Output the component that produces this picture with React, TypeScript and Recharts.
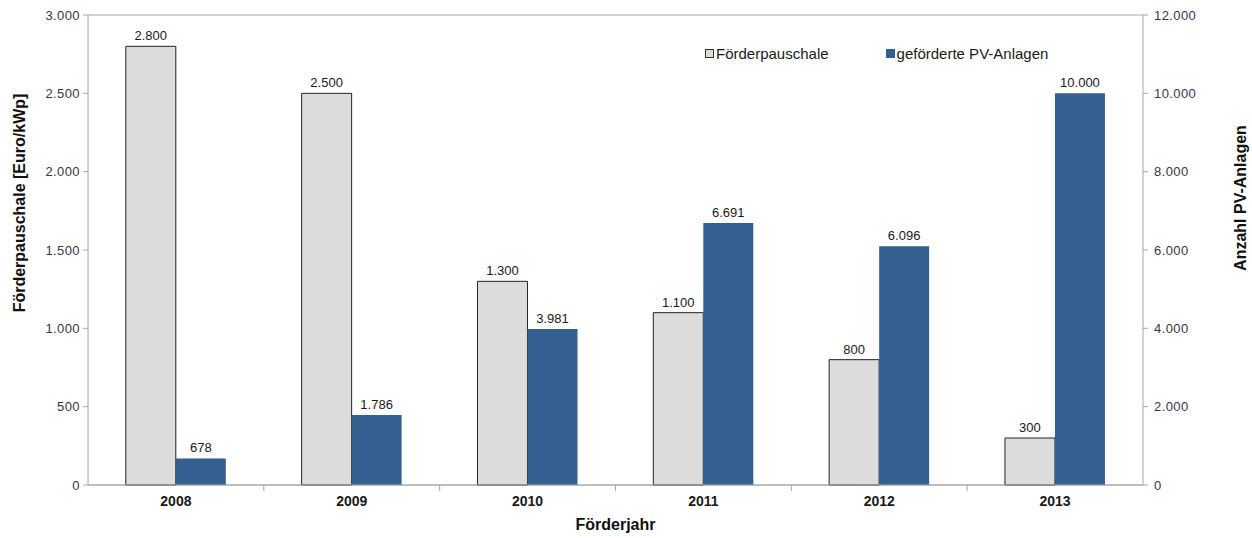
import {
  BarChart,
  Bar,
  XAxis,
  YAxis,
  CartesianGrid,
  Legend,
  LabelList,
} from "recharts";

const years = ["2008", "2009", "2010", "2011", "2012", "2013"];
const pauschale = [2800, 2500, 1300, 1100, 800, 300];
const anlagen = [678, 1786, 3981, 6691, 6096, 10000];
const leftTicks = [0, 500, 1000, 1500, 2000, 2500, 3000];
const rightTicks = [0, 2000, 4000, 6000, 8000, 10000, 12000];

const data = years.map((y, i) => ({ year: y, pauschale: pauschale[i], anlagen: anlagen[i] }));

const FONT = "'Liberation Sans', Arial, sans-serif";
const GRID = "#a6a6a6";
const BLUE = "#345f91";
const GRAY = "#dcdcdc";

const fmt = (v: number) => String(v).replace(/\B(?=(\d{3})+(?!\d))/g, ".");

function YearTick(props: any) {
  const { x, y, payload, index } = props;
  const half = payload && payload.offset ? payload.offset : 1055 / 12;
  return (
    <g>
      {index < years.length - 1 && (
        <line x1={x + half} x2={x + half} y1={485} y2={491} stroke={GRID} />
      )}
      <text x={x} y={y + 13} textAnchor="middle" fontFamily={FONT} fontSize={14} fontWeight="bold" fill="#1a1a1a">
        {payload.value}
      </text>
    </g>
  );
}

function LegendBox() {
  const item = (fill: string, stroke: string, label: string, gap: number) => (
    <span style={{ display: "inline-flex", alignItems: "center", marginRight: gap }}>
      <span
        style={{
          display: "inline-block",
          width: 7,
          height: 7,
          background: fill,
          border: `1px solid ${stroke}`,
          marginRight: 2,
        }}
      />
      {label}
    </span>
  );
  return (
    <div style={{ fontFamily: FONT, fontSize: 15, color: "#1a1a1a", display: "flex", whiteSpace: "nowrap" }}>
      {item(GRAY, "#333", "Förderpauschale", 57)}
      {item(BLUE, BLUE, "geförderte PV-Anlagen", 0)}
    </div>
  );
}

const tickStyle = { fontFamily: FONT, fontSize: 13, fill: "#35354a", letterSpacing: 0.4 };
const labelStyle = { fontFamily: FONT, fontSize: 13, fill: "#1a1a1a" };

export default function App() {
  return (
    <div style={{ position: "absolute", left: 0, top: 0, background: "#fff" }}>
      <BarChart
        width={1252}
        height={538}
        data={data}
        margin={{ top: 15, right: 0, bottom: 0, left: 0 }}
        barCategoryGap="21.5%"
        barGap={0}
      >
        <CartesianGrid vertical={false} stroke={GRID} />
        <XAxis
          dataKey="year"
          height={53}
          stroke={GRID}
          tickLine={false}
          tick={<YearTick />}
          interval={0}
          label={{
            value: "Förderjahr",
            position: "insideBottom",
            offset: 8,
            style: { fontFamily: FONT, fontSize: 16, fontWeight: "bold", fill: "#111" },
          }}
        />
        <YAxis
          yAxisId="left"
          width={88}
          domain={[0, 3000]}
          ticks={leftTicks}
          tickFormatter={fmt}
          stroke={GRID}
          tickSize={5}
          tickMargin={3}
          tick={tickStyle}
          label={{
            content: () => (
              <text
                x={25}
                y={203}
                transform="rotate(-90 25 203)"
                textAnchor="middle"
                fontFamily={FONT}
                fontSize={16}
                fontWeight="bold"
                fill="#111"
              >
                Förderpauschale [Euro/kWp]
              </text>
            ),
          }}
        />
        <YAxis
          yAxisId="right"
          orientation="right"
          width={109}
          domain={[0, 12000]}
          ticks={rightTicks}
          tickFormatter={fmt}
          stroke={GRID}
          tickSize={5}
          tickMargin={6}
          tick={tickStyle}
          label={{
            content: () => (
              <text
                x={1246}
                y={198}
                transform="rotate(-90 1246 198)"
                textAnchor="middle"
                fontFamily={FONT}
                fontSize={16}
                fontWeight="bold"
                fill="#111"
              >
                Anzahl PV-Anlagen
              </text>
            ),
          }}
        />
        <Legend
          content={<LegendBox />}
          verticalAlign="middle"
          align="center"
          wrapperStyle={{ position: "absolute", left: 705, top: 45, width: "auto" }}
        />
        <Bar
          yAxisId="left"
          dataKey="pauschale"
          name="Förderpauschale"
          fill={GRAY}
          stroke="#222"
          strokeWidth={1}
          isAnimationActive={false}
        >
          <LabelList
            dataKey="pauschale"
            position="top"
            offset={6}
            formatter={(v: any) => fmt(Number(v))}
            style={labelStyle}
          />
        </Bar>
        <Bar
          yAxisId="right"
          dataKey="anlagen"
          name="geförderte PV-Anlagen"
          fill={BLUE}
          isAnimationActive={false}
        >
          <LabelList
            dataKey="anlagen"
            position="top"
            offset={6}
            formatter={(v: any) => fmt(Number(v))}
            style={labelStyle}
          />
        </Bar>
      </BarChart>
    </div>
  );
}
